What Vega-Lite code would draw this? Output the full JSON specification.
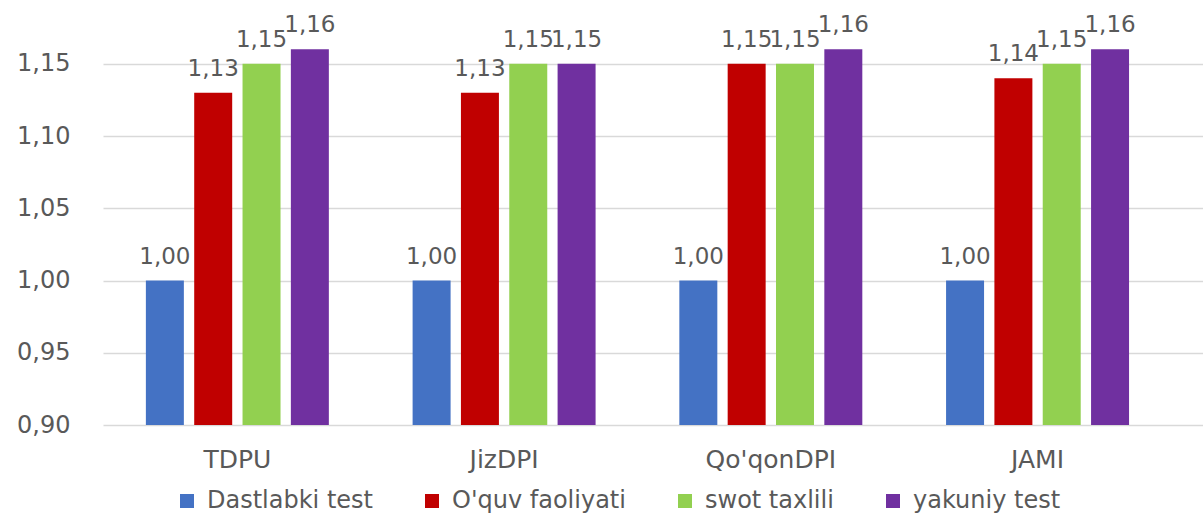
{
  "$schema": "https://vega.github.io/schema/vega-lite/v6.json",
  "width": 1100,
  "height": 419,
  "autosize": {"type": "none"},
  "padding": {"left": 103, "top": 6, "right": 0, "bottom": 88},
  "background": "white",
  "config": {
    "view": {"stroke": null},
    "font": "DejaVu Sans",
    "locale": {"number": {"decimal": ",", "thousands": " ", "grouping": [3], "currency": ["", ""]}}
  },
  "data": {
    "values": [
      {"group": "TDPU", "series": "Dastlabki test", "value": 1.00},
      {"group": "TDPU", "series": "O'quv faoliyati", "value": 1.13},
      {"group": "TDPU", "series": "swot taxlili", "value": 1.15},
      {"group": "TDPU", "series": "yakuniy test", "value": 1.16},
      {"group": "JizDPI", "series": "Dastlabki test", "value": 1.00},
      {"group": "JizDPI", "series": "O'quv faoliyati", "value": 1.13},
      {"group": "JizDPI", "series": "swot taxlili", "value": 1.15},
      {"group": "JizDPI", "series": "yakuniy test", "value": 1.15},
      {"group": "Qo'qonDPI", "series": "Dastlabki test", "value": 1.00},
      {"group": "Qo'qonDPI", "series": "O'quv faoliyati", "value": 1.15},
      {"group": "Qo'qonDPI", "series": "swot taxlili", "value": 1.15},
      {"group": "Qo'qonDPI", "series": "yakuniy test", "value": 1.16},
      {"group": "JAMI", "series": "Dastlabki test", "value": 1.00},
      {"group": "JAMI", "series": "O'quv faoliyati", "value": 1.14},
      {"group": "JAMI", "series": "swot taxlili", "value": 1.15},
      {"group": "JAMI", "series": "yakuniy test", "value": 1.16}
    ]
  },
  "encoding": {
    "x": {
      "field": "group",
      "type": "nominal",
      "sort": ["TDPU", "JizDPI", "Qo'qonDPI", "JAMI"],
      "scale": {"paddingInner": 0.314, "paddingOuter": 0.219, "align": 0.367},
      "axis": {
        "title": null,
        "domain": false,
        "ticks": false,
        "labelAngle": 0,
        "labelFont": "DejaVu Sans",
        "labelFontSize": 25,
        "labelColor": "#595959",
        "labelPadding": 22
      }
    },
    "xOffset": {
      "field": "series",
      "type": "nominal",
      "sort": ["Dastlabki test", "O'quv faoliyati", "swot taxlili", "yakuniy test"],
      "scale": {"paddingInner": 0.214, "paddingOuter": 0}
    },
    "y": {
      "field": "value",
      "type": "quantitative",
      "scale": {"domain": [0.9, 1.19], "zero": false, "nice": false},
      "axis": {
        "title": null,
        "values": [0.9, 0.95, 1.0, 1.05, 1.1, 1.15],
        "format": ".2f",
        "domain": false,
        "ticks": false,
        "labelFont": "DejaVu Sans",
        "labelFontSize": 24,
        "labelColor": "#595959",
        "labelPadding": 33,
        "gridColor": "#d9d9d9",
        "gridWidth": 1.5
      }
    }
  },
  "layer": [
    {
      "mark": {"type": "bar", "clip": true},
      "encoding": {
        "color": {
          "field": "series",
          "type": "nominal",
          "sort": ["Dastlabki test", "O'quv faoliyati", "swot taxlili", "yakuniy test"],
          "scale": {
            "domain": ["Dastlabki test", "O'quv faoliyati", "swot taxlili", "yakuniy test"],
            "range": ["#4472C4", "#C00000", "#92D050", "#7030A0"]
          },
          "legend": {
            "title": null,
            "orient": "none",
            "direction": "horizontal",
            "legendX": 72,
            "legendY": 483,
            "padding": 0,
            "symbolType": "square",
            "symbolSize": 196,
            "symbolStrokeWidth": 0,
            "labelFont": "DejaVu Sans",
            "labelFontSize": 24,
            "labelColor": "#595959",
            "labelOffset": 8,
            "columnPadding": 47,
            "labelLimit": 400
          }
        }
      }
    },
    {
      "mark": {
        "type": "text",
        "dy": -17,
        "baseline": "alphabetic",
        "align": "center",
        "font": "DejaVu Sans",
        "fontSize": 23,
        "color": "#595959"
      },
      "encoding": {
        "text": {"field": "value", "type": "quantitative", "format": ".2f"}
      }
    }
  ]
}
